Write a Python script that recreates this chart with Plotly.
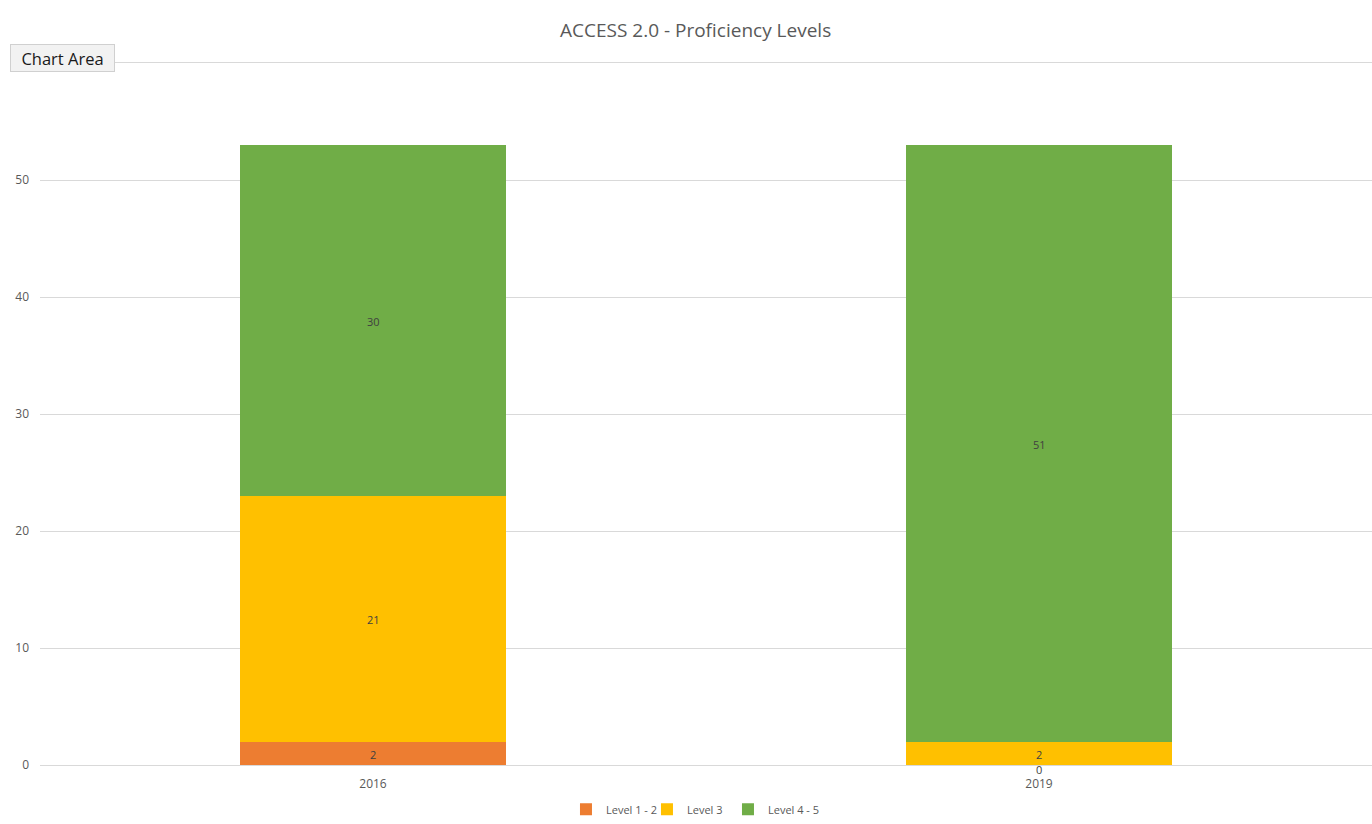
import plotly.graph_objects as go

categories = ["2016", "2019"]
series_names = ["Level 1 - 2", "Level 3", "Level 4 - 5"]
level_1_2 = [2, 0]
level_3 = [21, 2]
level_4_5 = [30, 51]
y_ticks = [0, 10, 20, 30, 40, 50]
colors = ["#ED7D31", "#FFC000", "#70AD47"]

series_values = [level_1_2, level_3, level_4_5]

fig = go.Figure()
for name, vals, col in zip(series_names, series_values, colors):
    fig.add_trace(go.Bar(x=categories, y=vals, name=name, marker=dict(color=col, line=dict(width=0))))
# blank, zero-height spacer legend entry so the last real entry's label is not clipped
fig.add_trace(go.Bar(x=categories, y=[0] * len(categories), name=" ",
                     marker=dict(color="rgba(0,0,0,0)", line=dict(width=0)), hoverinfo="skip"))

base = [0] * len(categories)
for vals in series_values:
    for i, v in enumerate(vals):
        # category index i (numeric-looking category names would be read as indices)
        fig.add_annotation(x=i, y=base[i] + v / 2, text=str(v), showarrow=False,
                           xref="x", yref="y", yshift=-4 if v == 0 else -1,
                           font=dict(size=11, color="#404040", family="Open Sans"))
        base[i] += v

# "Chart Area" tooltip box seen in the screenshot
fig.add_annotation(text="Chart Area", xref="paper", yref="paper", x=-0.0225, y=1.027,
                   xanchor="left", yanchor="top", showarrow=False, width=101, height=24,
                   bgcolor="#f2f2f2", bordercolor="#d0d0d0", borderwidth=1, borderpad=1,
                   font=dict(size=16.5, color="#1a1a1a", family="Open Sans"))

fig.update_layout(
    width=1372, height=824,
    margin=dict(l=40, r=0, t=63, b=59),
    paper_bgcolor="white", plot_bgcolor="white",
    barmode="stack", bargap=0.6,
    title=dict(text="ACCESS 2.0 - Proficiency Levels", x=0.507, xanchor="center", y=0.963, yanchor="middle",
               font=dict(size=19, color="#595959", family="Open Sans")),
    showlegend=True,
    legend=dict(orientation="h", x=0.5165, xanchor="center", y=-0.063, yanchor="middle",
                font=dict(size=11, color="#595959", family="Open Sans"), itemwidth=30,
                entrywidth=36, entrywidthmode="pixels", traceorder="normal"),
    yaxis=dict(range=[0, 60], tickvals=y_ticks, gridcolor="#d9d9d9", gridwidth=1, zeroline=False,
               tickfont=dict(size=12, color="#595959", family="Open Sans"), ticklabelstandoff=10,
               showline=False),
    xaxis=dict(type="category", showline=True, linecolor="#d9d9d9", mirror=True,
               tickfont=dict(size=12, color="#595959", family="Open Sans"), ticklabelstandoff=8),
)

fig.write_html("out.html")
